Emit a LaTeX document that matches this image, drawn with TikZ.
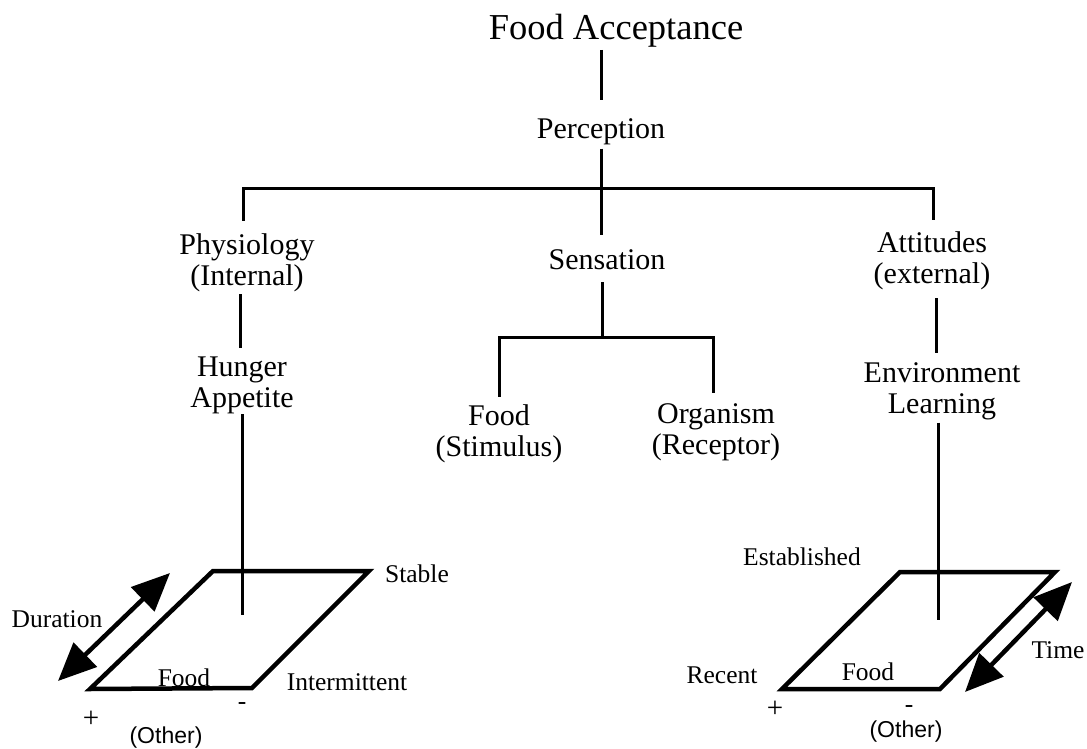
\documentclass[tikz,border=0pt]{standalone}
\usepackage{fontspec}
\setmainfont{Liberation Serif}
\newfontfamily\othfont{Liberation Sans}
\usetikzlibrary{arrows.meta,calc}
\begin{document}
\begin{tikzpicture}[x=1pt,y=-1pt,
  lbl/.style={inner sep=0pt,anchor=base,align=center,font=\fontsize{30}{31.5}\selectfont},
  ttl/.style={inner sep=0pt,anchor=base,font=\fontsize{36.5}{40}\selectfont},
  small/.style={inner sep=0pt,anchor=base,font=\fontsize{25.5}{28}\selectfont},
  sign/.style={inner sep=0pt,anchor=base,font=\fontsize{29}{30}\selectfont},
  oth/.style={inner sep=0pt,anchor=base,font=\othfont\fontsize{23}{26}\selectfont},
  conn/.style={line width=3pt},
  plate/.style={line width=4.5pt,line join=miter},
  dbl/.style={line width=4.5pt,{Triangle[length=38pt,width=33pt]}-{Triangle[length=38pt,width=33pt]}}
]
\useasboundingbox (0,0) rectangle (1087,749);

% tree labels (two-line labels sit on the baseline of their last line)
\node[ttl] (fa)   at (616,40)  {Food Acceptance};
\node[lbl] (perc) at (601,139) {Perception};
\node[lbl] (phys) at (247,285.5) {Physiology\\(Internal)};
\node[lbl] (sens) at (607,269) {Sensation};
\node[lbl] (att)  at (932,283.5) {Attitudes\\(external)};
\node[lbl] (hung) at (242,407.5) {Hunger\\Appetite};
\node[lbl] (stim) at (499,456.5) {Food\\(Stimulus)};
\node[lbl] (org)  at (716,454.5) {Organism\\(Receptor)};
\node[lbl] (env)  at (942,413.5) {Environment\\Learning};

% tree connectors
\coordinate (bar)  at (600,188);
\coordinate (sbar) at (602,337);
\draw[conn,shorten <=2pt,shorten >=19pt] (fa.south -| perc.north) -- (perc.north);
\draw[conn,shorten <=3pt,shorten >=14pt] (perc.south) -- (perc.south |- sens.north);
\draw[conn] ([xshift=-4pt,yshift=12pt]phys.north) |- (bar) -| ([xshift=1pt,yshift=11pt]att.north);
\draw[conn,shorten <=2pt,shorten >=8pt] ([xshift=-7pt]phys.south) -- ([xshift=-7pt]phys.south |- hung.north);
\draw[conn,shorten <=13pt] (sens.south -| sbar) -- (sbar);
\draw[conn] ([yshift=7pt]stim.north) |- (sbar) -| ([xshift=-3pt,yshift=10pt]org.north);
\draw[conn,shorten <=8pt,shorten >=9pt] ([xshift=4pt]att.south) -- ([xshift=4pt]att.south |- env.north);

% left plate
\coordinate (l1) at (213,571);
\coordinate (l2) at (369,571);
\coordinate (l3) at (252,688);
\coordinate (l4) at (90,689);
\draw[plate] (l1) -- (l2) -- (l3) -- (l4) -- cycle;
\coordinate (lstem) at (242,615);
\draw[conn] (hung.south -| lstem) -- (lstem);
\coordinate (d1) at (58,681);
\coordinate (d2) at (170,573);
\draw[dbl] (d1) -- (d2);

% right plate
\coordinate (r1) at (900,572);
\coordinate (r2) at (1055,572);
\coordinate (r3) at (940,689);
\coordinate (r4) at (782,689);
\draw[plate] (r1) -- (r2) -- (r3) -- (r4) -- cycle;
\coordinate (rstem) at (938,620);
\draw[conn,shorten <=2.5pt] (env.south -| rstem) -- (rstem);
\coordinate (t1) at (965,692);
\coordinate (t2) at (1072,582);
\draw[dbl] (t1) -- (t2);

% plate labels, left
\node[small] (stable) at (417,582) {Stable};
\node[small] (dur)    at (57,627)  {Duration};
\node[small] (lfood)  at (184,686) {Food};
\node[small] (inter)  at (347,690) {Intermittent};
\node[sign]  (lplus)  at (91,727)  {+};
\node[small] (lminus) at (242,709) {-};
\node[oth]   (loth)   at (166,743) {(Other)};

% plate labels, right
\node[small] (estab)  at (802,565) {Established};
\node[small] (time)   at (1058,658) {Time};
\node[small] (recent) at (722,683) {Recent};
\node[small] (rfood)  at (868,680) {Food};
\node[sign]  (rplus)  at (775,717) {+};
\node[small] (rminus) at (909,712) {-};
\node[oth]   (roth)   at (906,737) {(Other)};
\end{tikzpicture}
\end{document}
